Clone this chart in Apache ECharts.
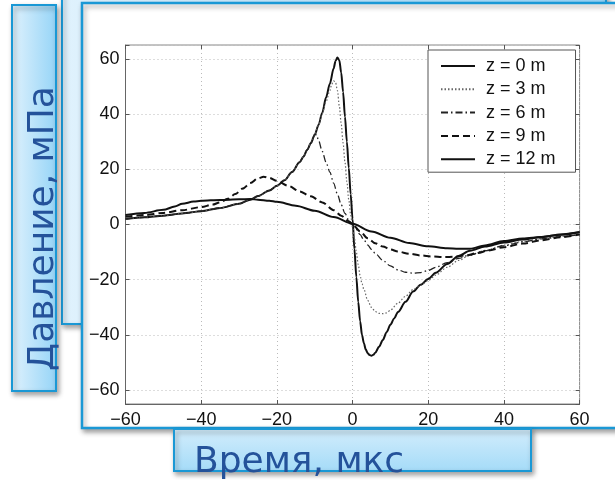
<!DOCTYPE html>
<html><head><meta charset="utf-8">
<script src="https://cdn.jsdelivr.net/npm/echarts@6/dist/echarts.min.js"></script>
<style>html,body{margin:0;padding:0;background:#fff;}#c{width:615px;height:480px;}</style>
</head><body><div id="c"></div>
<script>
const seriesNames = ['z = 0 m','z = 3 m','z = 6 m','z = 9 m','z = 12 m'];
const xTitle = 'Время, мкс';
const yTitle = 'Давление, мПа';

const t0 = [-60,-55,-50,-45,-40,-35,-30,-27,-25,-22,-20,-18,-16,-14,-13,-12,-11,-10,-9,-8,-7,-6,-5,-4.5,-4,-3.5,-3,-2.5,-2,-1.5,-1,-0.5,0,0.5,1,1.5,2,2.5,3,3.5,4,4.5,5,5.5,6,7,8,9,10,11,12,14,16,18,20,22,25,28,31,35,40,45,50,55,60];
const p0 = [2.0,2.6,3.2,4.0,4.8,6.0,7.5,9.0,10.3,12.3,14,16,19,22.5,24.5,27,29.5,32.5,36,40.5,46,51,56.5,59.2,60.5,59.5,55,48,39,30,20.5,11,2,-9,-19,-28,-35,-40,-43,-45.3,-46.6,-47.3,-47.5,-47.2,-46.4,-44.3,-41.8,-39,-36.3,-34,-31.7,-28,-24.3,-21.8,-19.7,-17.5,-14.3,-11.4,-9.5,-8.0,-6.5,-5.4,-4.5,-3.6,-2.7];

const t3 = [-60,-55,-50,-45,-40,-35,-30,-27,-25,-22,-20,-18,-16,-14,-13,-12,-11,-10,-9,-8,-7,-6,-5.5,-5,-4.5,-4,-3.5,-3,-2.5,-2,-1.5,-1,-0.5,0,0.5,1,1.5,2,2.5,3,4,5,6,7,8,9,10,12,14,16,18,20,22,25,28,31,35,40,45,50,55,60];
const p3 = [2.0,2.6,3.2,4.0,4.8,6.0,7.5,9.0,10.3,12.3,14,16,19,22.5,24.5,27,29.5,32.5,36,40.2,44.5,48.5,50.8,52,51.5,48.5,43,36.5,29.5,22.5,15.5,9,3.5,-1,-5,-10,-14.5,-18.5,-21.5,-23.5,-27.5,-30,-31.5,-32.2,-32.3,-32,-31,-28.5,-26,-23.5,-22,-20.3,-18.3,-15.5,-13,-11.2,-9.4,-7.5,-6.1,-5.1,-4.3,-3.5];

const t6 = [-60,-55,-50,-45,-40,-35,-30,-27,-25,-22,-20,-18,-16,-14,-13,-12,-11,-10.5,-10,-9.5,-9,-8,-7,-6,-5,-4,-3,-2,-1,0,1,2,3,4,5,6,8,10,12,14,16,18,20,22,25,28,31,35,40,45,50,55,60];
const p6 = [2.0,2.6,3.2,4.0,4.8,6.0,7.5,9.0,10.3,12.3,14,16,19,22.5,24.5,27,29.5,31.2,32.6,32.5,30.5,26.5,22.5,19,15,11,7.2,4,1.6,0,-1.8,-3.7,-5.6,-7.4,-9,-10.5,-13,-15,-16.4,-17.3,-17.6,-17.4,-16.6,-15.5,-13.8,-12.3,-11,-9.5,-7.7,-6.3,-5.2,-4.4,-3.6];

const t9 = [-60,-55,-50,-45,-40,-37,-35,-33,-31,-29,-27,-25,-23.5,-22,-20,-17,-14,-11,-8,-5,-3,-1,0,2,4,6,8,10,12,15,18,21,24,27,30,33,36,40,45,50,55,60];
const p9 = [2.8,3.4,4.2,5.2,6.3,7.2,8,9.3,11,13,15,16.7,17.3,16.9,15.8,14,12,10.2,8,5.2,3.2,1.2,0,-2.5,-5,-6.8,-8,-9,-9.8,-10.6,-11.2,-11.6,-11.8,-11.7,-11.2,-10.3,-9.4,-8.2,-6.9,-5.7,-4.6,-3.6];

const t12 = [-60,-55,-50,-47,-45,-42,-40,-35,-30,-27,-25,-22,-20,-15,-10,-5,0,5,10,15,20,25,28,31,35,40,45,50,55,60];
const p12 = [3.4,4.2,5.3,6.5,7.5,8.3,8.6,8.9,9.1,9.2,9.0,8.6,8.2,6.8,5.0,2.7,0.3,-2.5,-4.8,-6.7,-7.9,-8.6,-8.8,-8.8,-7.6,-6.0,-5.1,-4.5,-3.7,-2.8];

const xTicks = [-60,-40,-20,0,20,40,60];
const yTicks = [-60,-40,-20,0,20,40,60];

function pairs(t, p) { return t.map((v, i) => [v, p[i]]); }
function fmt(v) { return v < 0 ? '\u2212' + Math.abs(v) : String(v); }

const styles = [
  {color:'#111', width:2, type:'solid'},
  {color:'#666', width:1.2, type:[1.5,2]},
  {color:'#222', width:1.3, type:[7,3,1.5,3]},
  {color:'#111', width:2, type:[7,4]},
  {color:'#111', width:2, type:'solid'}
];
const times = [t0, t3, t6, t9, t12];
const vals = [p0, p3, p6, p9, p12];

const blue = '#1a98d5';
const shadow = {shadowBlur:5, shadowOffsetX:2, shadowOffsetY:3, shadowColor:'rgba(0,0,0,0.35)'};
const hGrad = () => new echarts.graphic.LinearGradient(0,0,1,0,[{offset:0,color:'#e0f2fd'},{offset:1,color:'#95d4f7'}]);
const vGrad = () => new echarts.graphic.LinearGradient(0,0,0,1,[{offset:0,color:'#d3edfc'},{offset:1,color:'#a4dbf8'}]);

const chart = echarts.init(document.getElementById('c'), null, {renderer:'canvas'});
chart.setOption({
  animation: false,
  backgroundColor: '#fff',
  graphic: { elements: [
    {type:'rect', z:0, shape:{x:62,y:-10,width:544,height:334}, style:Object.assign({fill:hGrad(), stroke:blue, lineWidth:2}, shadow)},
    {type:'rect', z:0, shape:{x:12,y:5,width:44,height:386}, style:Object.assign({fill:hGrad(), stroke:blue, lineWidth:2}, shadow)},
    {type:'rect', z:1, shape:{x:82,y:3,width:560,height:425}, style:Object.assign({fill:'#fff', stroke:blue, lineWidth:2.5}, shadow)},
    {type:'rect', z:1, shape:{x:174,y:429,width:357,height:42}, style:Object.assign({fill:vGrad(), stroke:blue, lineWidth:2}, shadow)}
  ]},
  grid: {left:125.5, right:35.4, top:45, bottom:76, show:true, z:2, borderColor:'#888', borderWidth:1,
         backgroundColor:'transparent', containLabel:false, outerBoundsMode:'none'},
  legend: {
    z: 6,
    data: seriesNames, orient:'vertical', left:428, top:50,
    padding:[7,20,4,12], itemWidth:34, itemHeight:14, itemGap:5.3,
    backgroundColor:'#fff', borderColor:'#555', borderWidth:1, borderRadius:0,
    itemStyle:{color:'rgba(0,0,0,0)', borderWidth:0, opacity:0},
    textStyle:{fontFamily:'Liberation Sans', fontSize:18, color:'#111', padding:[0,0,0,6]}
  },
  xAxis: [{
    type:'value', min:-60, max:60, interval:20, z:3,
    name: xTitle, nameLocation:'middle', nameGap:41,
    nameTextStyle:{fontFamily:'DejaVu Sans', fontSize:36, color:'#24529a', lineHeight:36, padding:[0,107,0,0]},
    axisLine:{show:true, onZero:false, lineStyle:{color:'#666', width:1}},
    axisTick:{show:true, inside:true, length:4, lineStyle:{color:'#555'}},
    axisLabel:{formatter: v => xTicks.includes(v) ? fmt(v) : '', fontFamily:'Liberation Sans', fontSize:18, color:'#111', margin:7},
    splitLine:{show:true, lineStyle:{color:'#bbb', type:[1,3], width:1}}
  },{
    type:'value', position:'top', min:-60, max:60, interval:20, z:3,
    axisLine:{show:false, onZero:false}, axisTick:{show:true, inside:true, length:4, lineStyle:{color:'#555'}},
    axisLabel:{show:false}, splitLine:{show:false}
  }],
  yAxis: [{
    type:'value', min:-65, max:65, minInterval:20, maxInterval:20, z:3,
    name: yTitle, nameLocation:'middle', nameGap:64, nameRotate:90,
    nameTextStyle:{fontFamily:'DejaVu Sans', fontSize:36, color:'#24529a', lineHeight:36, padding:[0,8,0,0]},
    axisLine:{show:true, onZero:false, lineStyle:{color:'#666', width:1}},
    axisTick:{show:true, inside:true, length:4, lineStyle:{color:'#555'}},
    axisLabel:{formatter: v => yTicks.includes(v) ? fmt(v) : '', fontFamily:'Liberation Sans', fontSize:18, color:'#111', margin:6},
    splitLine:{show:true, lineStyle:{color:'#bbb', type:[1,3], width:1}}
  },{
    type:'value', position:'right', min:-65, max:65, minInterval:20, maxInterval:20, z:3,
    axisLine:{show:false, onZero:false}, axisTick:{show:true, inside:true, length:4, lineStyle:{color:'#555'}},
    axisLabel:{show:false}, splitLine:{show:false}
  }],
  series: seriesNames.map((n, i) => ({
    name:n, type:'line', z:4, xAxisIndex:0, yAxisIndex:0,
    data: pairs(times[i], vals[i]),
    symbol:'none', showSymbol:false, smooth:0.3, smoothMonotone:'x',
    lineStyle: styles[i], itemStyle:{color: styles[i].color}
  }))
});
</script></body></html>
